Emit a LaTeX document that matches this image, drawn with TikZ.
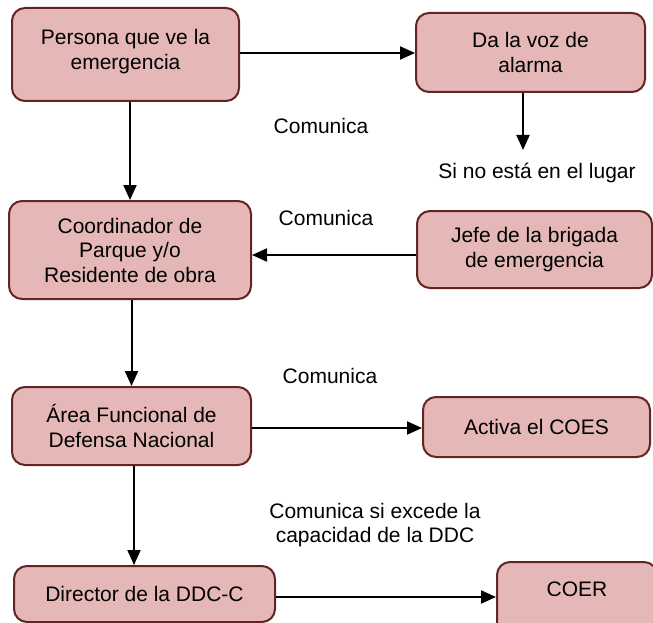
\documentclass[tikz,border=0pt]{standalone}
\usepackage{fontspec}
\setmainfont{Liberation Sans}
\usetikzlibrary{arrows.meta}
\definecolor{boxfill}{HTML}{E5B8B7}
\definecolor{boxline}{HTML}{632523}
\tikzset{
  box/.style={draw=boxline, fill=boxfill, line width=2pt, rounded corners=13pt,
    align=center, inner sep=2pt, font=\fontsize{21}{24.5}\selectfont},
  lbl/.style={align=center, inner sep=0pt, font=\fontsize{21}{24.5}\selectfont},
  arr/.style={line width=2pt, -{Triangle[length=15pt,width=13pt]}}
}
\begin{document}
\begin{tikzpicture}[x=1pt,y=-1pt]
\clip (0,0) rectangle (653,623);
\fill[white] (0,0) rectangle (653,623);
% boxes
\node[box, minimum width=227pt, minimum height=93pt, text depth=10pt] (b1) at (125.5,54.5) {Persona que ve la\\emergencia};
\node[box, minimum width=229pt, minimum height=79pt] (b2) at (530.5,52.5) {Da la voz de\\alarma};
\node[box, minimum width=242pt, minimum height=98pt] (b3) at (130,250) {Coordinador de\\Parque y/o\\Residente de obra};
\node[box, minimum width=235pt, minimum height=77pt] (jefe) at (534.5,249.5) {Jefe de la brigada\\de emergencia};
\node[box, minimum width=239pt, minimum height=78pt] (b5) at (131.5,426) {Área Funcional de\\Defensa Nacional};
\node[box, minimum width=227pt, minimum height=60pt] (b6) at (536.5,427) {Activa el COES};
\node[box, minimum width=261pt, minimum height=56pt] (dir) at (144.5,594) {Director de la DDC-C};
\node[box, minimum width=160pt, text height=32pt, text depth=60pt, anchor=north west] (coer) at (496,561) {COER};
% labels
\node[lbl] (l1) at (321,126) {Comunica};
\node[lbl] (l2) at (537,173) {Si no está en el lugar};
\node[lbl] (l3) at (326,218) {Comunica};
\node[lbl] (l4) at (330,376) {Comunica};
\node[lbl] (l5) at (375,525) {Comunica si excede la\\capacidad de la DDC};
\coordinate (c1) at (523,150);
% connectors
\draw[arr] ([yshift=1.5pt]b1.east) -- ([yshift=1.5pt]b1.east -| b2.west);
\draw[arr] (b2.south -| c1) -- (c1);
\draw[arr] (b3.north |- b1.south) -- (b3.north);
\draw[arr] ([yshift=-5.5pt]jefe.west) -- ([yshift=-5.5pt]jefe.west -| b3.east);
\draw[arr] (b5.north |- b3.south) -- (b5.north);
\draw[arr] ([yshift=-1pt]b6.west -| b5.east) -- ([yshift=-1pt]b6.west);
\draw[arr] ([xshift=2.5pt]b5.south) -- ([xshift=2.5pt]b5.south |- dir.north);
\draw[arr] ([yshift=-3pt]dir.east) -- ([yshift=-3pt]dir.east -| coer.west);
\end{tikzpicture}
\end{document}
